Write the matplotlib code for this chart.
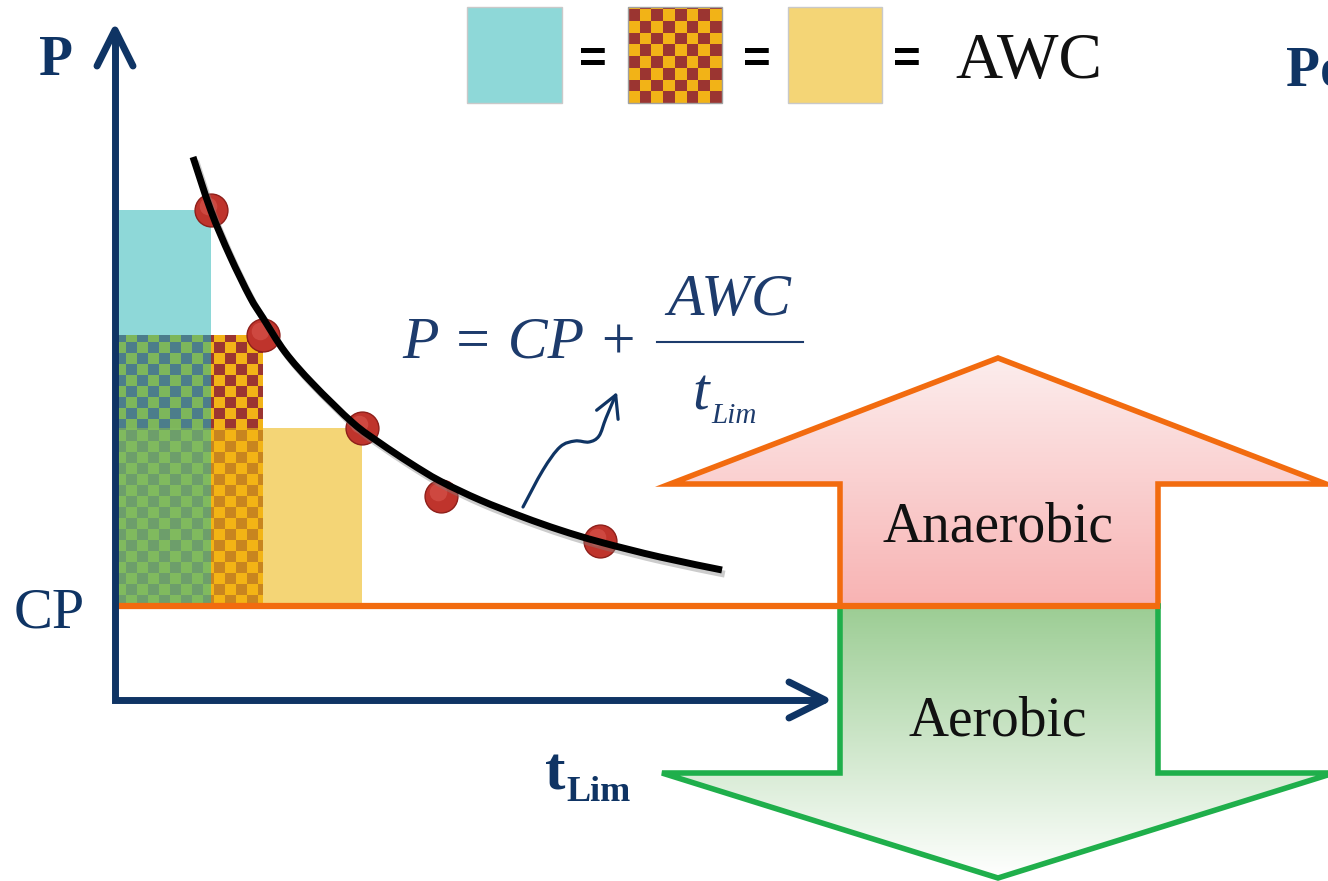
import numpy as np
import matplotlib.pyplot as plt
from matplotlib.patches import Polygon, Rectangle, PathPatch, FancyArrowPatch
from matplotlib.path import Path
from matplotlib.colors import ListedColormap, LinearSegmentedColormap
import matplotlib.patheffects as pe

plt.rcParams['font.family'] = ['Liberation Serif', 'DejaVu Serif']

# chart units: t_Lim to the right of the P axis, P above the t axis
cp = 94
t_points = [96, 148, 247, 326, 485]
p_points = [490, 365, 272, 204, 159]
curve_t = [78, 96, 115, 135, 148, 170, 198, 238, 265, 295, 325, 365, 408, 445, 485, 545, 607]
curve_p = [543, 489, 444, 403, 382, 348, 316, 277, 257, 237, 219, 200, 183, 170, 158, 143, 130]
wave_t = [408, 428, 445, 460, 474, 484, 491, 502]
wave_p = [193, 230, 253, 259, 258, 264, 282, 308]

navy = '#0F3464'
eq_color = '#1D3B6C'
orange = '#F26B0F'
green = '#1FAF4B'

fig = plt.figure(figsize=(13.28, 8.81), dpi=100)
ax = fig.add_axes([0, 0, 1, 1])
ax.axis('off')


def px(x, y):
    # position in the picture (pixels) -> chart units
    return x - 115, 700 - y


def smooth(xs, ys):
    # Catmull-Rom through the points, written as cubic bezier segments
    p = np.column_stack([xs, ys]).astype(float)
    ext = np.vstack([p[0], p, p[-1]])
    verts = [p[0]]
    codes = [Path.MOVETO]
    for i in range(1, len(ext) - 2):
        c1 = ext[i] + (ext[i + 1] - ext[i - 1]) / 6
        c2 = ext[i + 1] - (ext[i + 2] - ext[i]) / 6
        verts += [c1, c2, ext[i + 1]]
        codes += [Path.CURVE4] * 3
    return Path(verts, codes)


def checker(x0, x1, y0, y1, c1, c2, cell=11, ox=0, oy=cp, z=2):
    xs = np.arange(x0, x1) + 0.5
    ys = np.arange(y0, y1) + 0.5
    grid = (np.floor((xs - ox) / cell)[None, :] + np.floor((ys - oy) / cell)[:, None]) % 2
    ax.imshow(grid, cmap=ListedColormap([c1, c2]), vmin=0, vmax=1,
              extent=(x0, x1, y0, y1), origin='lower', interpolation='nearest',
              aspect='auto', zorder=z)


# -------- work blocks under the first three points --------
t1, t2, t3 = t_points[:3]
p1, p2, p3 = p_points[:3]
ax.add_patch(Rectangle((0, p2), t1, p1 - p2, color='#8ED8D8', lw=0, zorder=2))
checker(0, t1, p3, p2, '#4C7D8B', '#7DB65B')
checker(0, t1, cp, p3, '#6D9E6B', '#80BA5E')
checker(t1, t2, p3, p2, '#9B3531', '#F2B317')
checker(t1, t2, cp, p3, '#C8851F', '#F3B415')
ax.add_patch(Rectangle((t2, cp), t3 - t2, p3 - cp, color='#F4D576', lw=0, zorder=2))

# -------- fit points and curve --------
ax.scatter(t_points, p_points, s=560, color='#BF342C', edgecolor='#8E1F1A', lw=1, zorder=4)
ax.scatter(np.array(t_points) - 3, np.array(p_points) + 4, s=160, color='#D9574F',
           alpha=0.6, lw=0, zorder=4)
ax.add_patch(PathPatch(smooth(curve_t, curve_p), fill=False, edgecolor='black', lw=5,
                       capstyle='butt', zorder=5,
                       path_effects=[pe.SimpleLineShadow(offset=(2, -3), shadow_color='gray', alpha=0.4),
                                     pe.Normal()]))

# -------- up / down arrows --------
up_pts = [px(998, 358), px(1326, 484), px(1158, 484), px(1158, 606),
          px(840, 606), px(840, 484), px(670, 484)]
down_pts = [px(840, 606), px(1158, 606), px(1158, 773), px(1334, 773),
            px(998, 878), px(662, 773), px(840, 773)]

for pts, cols, edge in [(up_pts, ['#F8B3B3', '#FCEDED'], orange),
                        (down_pts, ['#FFFFFF', '#9CCD94'], green)]:
    xs = [p[0] for p in pts]
    ys = [p[1] for p in pts]
    grad = np.linspace(0, 1, 256).reshape(-1, 1)
    im = ax.imshow(grad, cmap=LinearSegmentedColormap.from_list('g', cols),
                   extent=(min(xs), max(xs), min(ys), max(ys)), origin='lower',
                   aspect='auto', zorder=3)
    poly = Polygon(pts, closed=True, facecolor='none', edgecolor=edge, lw=4,
                   joinstyle='miter', zorder=4)
    ax.add_patch(poly)
    im.set_clip_path(poly)

ax.text(*px(998, 541), 'Anaerobic', fontsize=40, color='#111111', ha='center', va='baseline', zorder=7)
ax.text(*px(998, 735), 'Aerobic', fontsize=40, color='#111111', ha='center', va='baseline', zorder=7)

# CP line
ax.plot([3, 1045], [cp, cp], color=orange, lw=4.5, solid_capstyle='butt', zorder=6)

# -------- axes --------
ax.plot([0, 0, 710], [670, 0, 0], color=navy, lw=5, solid_joinstyle='miter',
        solid_capstyle='butt', zorder=6)
ax.plot([-18, 0, 18], [634, 670, 634], color=navy, lw=5, solid_joinstyle='round',
        solid_capstyle='round', zorder=6)
ax.plot([674, 710, 674], [18, 0, -18], color=navy, lw=5, solid_joinstyle='round',
        solid_capstyle='round', zorder=6)

ax.text(*px(56, 75), 'P', fontsize=40, fontweight='bold', color=navy, ha='center', va='baseline')
ax.text(*px(14, 628), 'CP', fontsize=42, color=navy, ha='left', va='baseline')
ax.text(*px(545, 790), 't', fontsize=44, fontweight='bold', color=navy, ha='left', va='baseline')
ax.text(*px(566, 801), 'Lim', fontsize=26, fontweight='bold', color=navy, ha='left', va='baseline')
ax.text(*px(1286, 85), 'Po', fontsize=40, fontweight='bold', color=navy, ha='left', va='baseline')

# -------- equation --------
ax.text(*px(402, 358), 'P = CP +', fontsize=43, style='italic', color=eq_color,
        ha='left', va='baseline')
ax.text(*px(729, 315), 'AWC', fontsize=43, style='italic', color=eq_color, ha='center', va='baseline')
ax.plot([px(657, 0)[0], px(803, 0)[0]], [px(0, 342)[1]] * 2, color=eq_color, lw=1.5)
ax.text(*px(692, 410), 't', fontsize=43, style='italic', color=eq_color, ha='left', va='baseline')
ax.text(*px(711, 423), 'Lim', fontsize=21, style='italic', color=eq_color, ha='left', va='baseline')

ax.add_patch(FancyArrowPatch(path=smooth(wave_t, wave_p),
                             arrowstyle='->,head_length=0.55,head_width=0.3',
                             mutation_scale=28, lw=2.3, color=navy, zorder=6))

# -------- legend: three equal areas --------
ax.add_patch(Rectangle(px(467, 103), 95, 96, facecolor='#8ED8D8', edgecolor='#C9C9C9', lw=1, zorder=2))
checker(513, 607, 597, 693, '#F2B317', '#9B3531', cell=11.75, ox=513, oy=597)
ax.add_patch(Rectangle(px(628, 103), 94, 96, facecolor='none', edgecolor='#A0A0A0', lw=1, zorder=3))
ax.add_patch(Rectangle(px(788, 103), 94, 96, facecolor='#F4D576', edgecolor='#C9C9C9', lw=1, zorder=2))
for x in [593, 757, 907]:
    ax.text(*px(x, 73), '=', fontsize=34, fontweight='bold', family='Liberation Sans',
            color='black', ha='center', va='baseline')
ax.text(*px(955, 78), 'AWC', fontsize=47, color='#111111', ha='left', va='baseline')

ax.set_xlim(-115, 1213)
ax.set_ylim(-181, 700)

plt.savefig('out.png', dpi=100)
